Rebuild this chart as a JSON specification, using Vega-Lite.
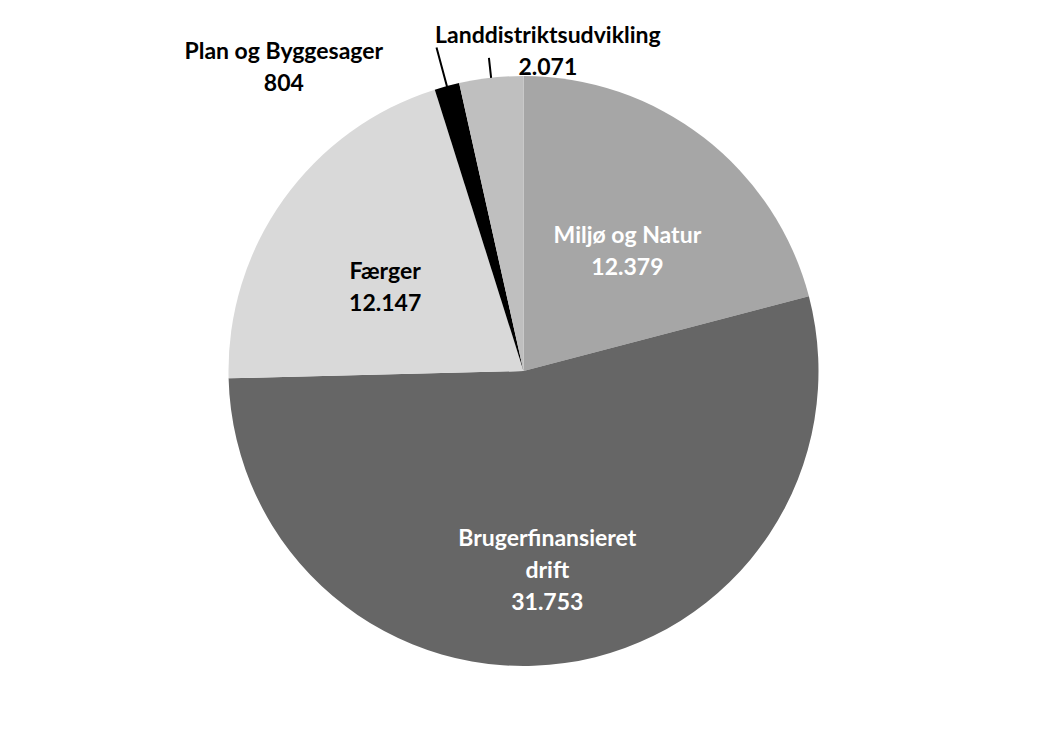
{
  "$schema": "https://vega.github.io/schema/vega-lite/v6.json",
  "width": 1047,
  "height": 742,
  "autosize": {"type": "fit", "contains": "padding"},
  "background": "white",
  "config": {"view": {"stroke": null}},
  "data": {
    "values": [
      {"nr": 1, "kategori": "Miljø og Natur", "vaerdi": 12379},
      {"nr": 2, "kategori": "Brugerfinansieret drift", "vaerdi": 31753},
      {"nr": 3, "kategori": "Færger", "vaerdi": 12147},
      {"nr": 4, "kategori": "Plan og Byggesager", "vaerdi": 804},
      {"nr": 5, "kategori": "Landdistriktsudvikling", "vaerdi": 2071}
    ]
  },
  "transform": [
    {"stack": "vaerdi", "groupby": [], "sort": [{"field": "nr"}], "as": ["v0", "v1"]},
    {"calculate": "(datum.v0 + datum.v1) / 2", "as": "mid"},
    {"calculate": "replace(format(datum.vaerdi, ','), ',', '.')", "as": "vtxt"},
    {"calculate": "(datum.kategori == 'Brugerfinansieret drift' ? 'Brugerfinansieret\\ndrift' : datum.kategori) + '\\n' + datum.vtxt", "as": "label"}
  ],
  "layer": [
    {
      "mark": {"type": "arc", "radius": 295},
      "encoding": {
        "theta": {"field": "v0", "type": "quantitative", "scale": {"domain": [0, 59154]}},
        "theta2": {"field": "v1"},
        "color": {
          "field": "kategori",
          "type": "nominal",
          "legend": null,
          "scale": {
            "domain": ["Miljø og Natur", "Brugerfinansieret drift", "Færger", "Plan og Byggesager", "Landdistriktsudvikling"],
            "range": ["#a6a6a6", "#666666", "#d9d9d9", "#000000", "#bfbfbf"]
          }
        }
      }
    },
    {
      "transform": [{"filter": "datum.nr == 4"}],
      "mark": {"type": "arc", "radius": 335, "radius2": 292, "fill": null, "stroke": "black", "strokeWidth": 2},
      "encoding": {
        "theta": {"field": "mid", "type": "quantitative"},
        "theta2": {"field": "mid"}
      }
    },
    {
      "transform": [{"filter": "datum.nr == 5"}],
      "mark": {"type": "arc", "radius": 315, "radius2": 295, "fill": null, "stroke": "black", "strokeWidth": 2},
      "encoding": {
        "theta": {"field": "mid", "type": "quantitative"},
        "theta2": {"field": "mid"}
      }
    },
    {
      "transform": [{"filter": "datum.nr <= 3"}],
      "mark": {"type": "text", "radius": 170, "font": "Lato", "fontSize": 23, "fontWeight": "bold", "lineBreak": "\n", "align": "center", "baseline": "middle", "lineHeight": 32},
      "encoding": {
        "theta": {"field": "mid", "type": "quantitative"},
        "text": {"field": "label"},
        "color": {"condition": {"test": "datum.nr <= 2", "value": "white"}, "value": "black"}
      }
    },
    {
      "transform": [{"filter": "datum.nr == 4"}],
      "mark": {"type": "text", "radius": 330, "dx": -154, "dy": 0, "font": "Lato", "fontSize": 23, "fontWeight": "bold", "lineBreak": "\n", "align": "center", "baseline": "middle", "lineHeight": 32, "color": "black"},
      "encoding": {
        "theta": {"field": "mid", "type": "quantitative"},
        "text": {"field": "label"}
      }
    },
    {
      "transform": [{"filter": "datum.nr == 5"}],
      "mark": {"type": "text", "radius": 325, "dx": 60, "dy": -12, "font": "Lato", "fontSize": 23, "fontWeight": "bold", "lineBreak": "\n", "align": "center", "baseline": "middle", "lineHeight": 32, "color": "black"},
      "encoding": {
        "theta": {"field": "mid", "type": "quantitative"},
        "text": {"field": "label"}
      }
    }
  ]
}
